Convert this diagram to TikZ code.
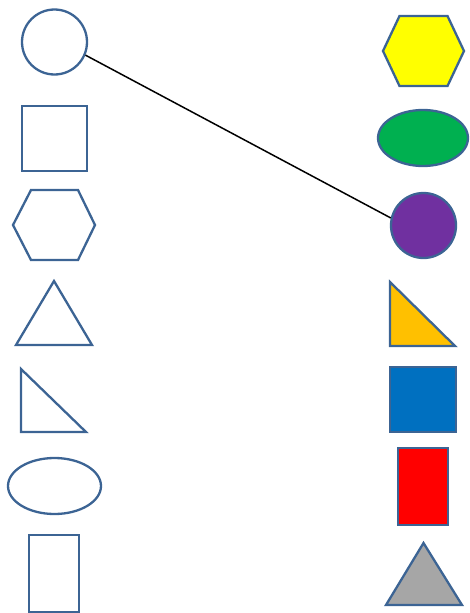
\documentclass[tikz,border=0pt]{standalone}
\usetikzlibrary{shapes.geometric}
\definecolor{edgeblue}{RGB}{60,100,148}
\definecolor{hexyellow}{RGB}{255,255,0}
\definecolor{ovalgreen}{RGB}{0,176,80}
\definecolor{discpurple}{RGB}{112,48,160}
\definecolor{wedgeorange}{RGB}{255,192,0}
\definecolor{boxblue}{RGB}{0,112,192}
\definecolor{boxred}{RGB}{255,0,0}
\definecolor{peakgray}{RGB}{166,166,166}
\tikzset{
  shp/.style={draw=edgeblue, line width=2.3pt, inner sep=0pt, fill=white},
  disc/.style={shp, circle, minimum size=65pt},
  box/.style={shp, rectangle},
  oval/.style={shp, ellipse},
  link/.style={black, line width=1.5pt}
}
\begin{document}
\begin{tikzpicture}[x=1pt,y=-1pt]
\useasboundingbox (0,0) rectangle (469,613);
% left column, outlines only
\node[disc] (circL) at (54.5,42) {};
\node[box, minimum width=65pt, minimum height=65pt] (sqL) at (54.5,138.5) {};
\draw[shp] (13,225) -- (31,190) -- (78,190) -- (95,225) -- (78,260) -- (31,260) -- cycle;
\draw[shp] (16,345) -- (54,281) -- (92,345) -- cycle;
\draw[shp] (21,369) -- (21,432) -- (86,432) -- cycle;
\node[oval, minimum width=93pt, minimum height=56pt] (ovL) at (54.5,486) {};
\node[box, minimum width=50pt, minimum height=77pt] (rcL) at (54,573.5) {};

% right column, filled
\draw[shp, fill=hexyellow] (383,51) -- (399.5,16) -- (447.5,16) -- (464,51) -- (447.5,86) -- (399.5,86) -- cycle;
\node[oval, fill=ovalgreen, minimum width=90pt, minimum height=56pt] (ovR) at (423,138) {};
\node[disc, fill=discpurple] (circR) at (423.5,225.5) {};
\draw[shp, fill=wedgeorange] (390,282) -- (390,346) -- (455,346) -- cycle;
\node[box, fill=boxblue, minimum width=66pt, minimum height=65pt] (sqR) at (423,399.5) {};
\node[box, fill=boxred, minimum width=50pt, minimum height=77pt] (rcR) at (423,486.5) {};
\draw[shp, fill=peakgray] (386,605) -- (423.5,543) -- (462,605) -- cycle;

\draw[link] (circL.-23) -- (circR.167);
\end{tikzpicture}
\end{document}
